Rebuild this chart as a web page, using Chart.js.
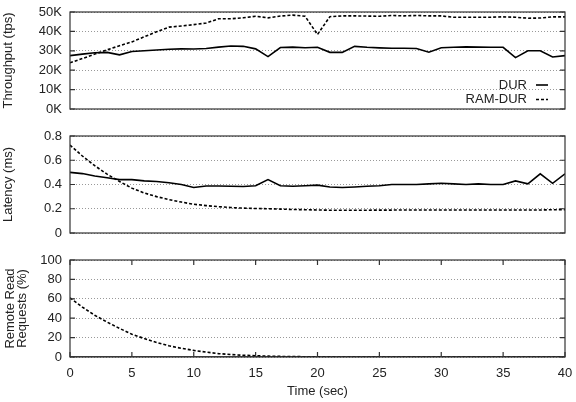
<!DOCTYPE html>
<html>
<head>
<meta charset="utf-8">
<script src="https://cdn.jsdelivr.net/npm/chart.js@4.4.1/dist/chart.umd.min.js"></script>
<style>
    html, body { margin: 0; padding: 0; background: #fff; }
    .panel { position: absolute; left: 0; width: 576px; }
</style>
</head>
<body>
<div class="panel" style="top:0px"><canvas id="tputChart" width="576" height="116"></canvas></div>
<div class="panel" style="top:120px"><canvas id="latChart" width="576" height="120"></canvas></div>
<div class="panel" style="top:245px"><canvas id="remoteChart" width="576" height="157"></canvas></div>
<script>
// time axis (sec)
const seconds = [0, 1, 2, 3, 4, 5, 6, 7, 8, 9, 10, 11, 12, 13, 14, 15, 16, 17, 18, 19, 20,
    21, 22, 23, 24, 25, 26, 27, 28, 29, 30, 31, 32, 33, 34, 35, 36, 37, 38, 39, 40];
const seriesNames = ['DUR', 'RAM-DUR'];

// throughput in thousands of tps
const durThroughput = [27.5, 28.3, 29.0, 29.2, 27.9, 29.6, 30.0, 30.4, 30.8, 31.0, 30.9,
    31.2, 31.9, 32.5, 32.3, 31.0, 27.0, 31.7, 31.9, 31.6, 31.8,
    29.2, 29.2, 32.3, 31.8, 31.5, 31.3, 31.3, 31.2, 29.3, 31.6,
    31.8, 32.0, 31.9, 31.8, 31.8, 26.5, 30.0, 30.0, 26.8, 27.5];
const ramDurThroughput = [23.8, 26.0, 28.3, 30.5, 32.6, 34.6, 37.2, 39.8, 42.2, 42.8, 43.5,
    44.3, 46.5, 46.5, 47.0, 47.8, 47.0, 47.9, 48.4, 47.8, 38.4,
    47.6, 48.0, 48.0, 47.9, 47.8, 48.2, 48.0, 48.2, 48.0, 48.0,
    47.3, 47.3, 47.3, 47.3, 47.5, 47.3, 46.8, 46.9, 47.5, 47.5];

// latency (ms)
const durLatency = [0.50, 0.49, 0.47, 0.455, 0.44, 0.44, 0.43, 0.425, 0.415, 0.40, 0.375,
    0.388, 0.388, 0.385, 0.383, 0.39, 0.44, 0.39, 0.385, 0.39, 0.395,
    0.38, 0.375, 0.38, 0.385, 0.39, 0.40, 0.40, 0.40, 0.405, 0.41,
    0.405, 0.40, 0.405, 0.40, 0.40, 0.43, 0.405, 0.488, 0.41, 0.488];
const ramDurLatency = [0.725, 0.635, 0.555, 0.485, 0.425, 0.37, 0.33, 0.30, 0.275, 0.255, 0.237,
    0.226, 0.217, 0.21, 0.205, 0.202, 0.20, 0.197, 0.194, 0.192, 0.19,
    0.188, 0.188, 0.188, 0.188, 0.189, 0.189, 0.19, 0.19, 0.19, 0.19,
    0.19, 0.19, 0.19, 0.19, 0.19, 0.19, 0.19, 0.19, 0.192, 0.193];

// remote read requests (%)
const durRemote = [0, 0, 0, 0, 0, 0, 0, 0, 0, 0, 0, 0, 0, 0, 0, 0, 0, 0, 0, 0, 0,
    0, 0, 0, 0, 0, 0, 0, 0, 0, 0, 0, 0, 0, 0, 0, 0, 0, 0, 0, 0];
const ramDurRemote = [61, 51.5, 43, 36, 29.5, 23.5, 19, 15, 11.5, 9, 6.8,
    5, 3.5, 2.5, 1.8, 1.3, 0.9, 0.6, 0.4, 0.3, 0.2,
    0.1, 0, 0, 0, 0, 0, 0, 0, 0, 0, 0, 0, 0, 0, 0, 0, 0, 0, 0, 0];

Chart.defaults.font.family = '"Liberation Sans", Arial, sans-serif';
Chart.defaults.font.size = 13;
Chart.defaults.color = '#222';

// gnuplot-like box with inward tick marks
const framePlugin = {
    id: 'frame',
    afterDraw(chart, args, opts) {
        const ctx = chart.ctx;
        const a = chart.chartArea;
        ctx.save();
        ctx.strokeStyle = '#333';
        ctx.lineWidth = 1.2;
        ctx.strokeRect(a.left, a.top, a.right - a.left, a.bottom - a.top);
        ctx.beginPath();
        const ys = chart.scales.y;
        ys.ticks.forEach(t => {
            const py = ys.getPixelForValue(t.value);
            ctx.moveTo(a.left, py); ctx.lineTo(a.left + 5, py);
            ctx.moveTo(a.right, py); ctx.lineTo(a.right - 5, py);
        });
        if (opts.xTicks) {
            const xs = chart.scales.x;
            xs.ticks.forEach(t => {
                const px = xs.getPixelForValue(t.value);
                ctx.moveTo(px, a.bottom); ctx.lineTo(px, a.bottom - 5);
                ctx.moveTo(px, a.top); ctx.lineTo(px, a.top + 5);
            });
        }
        ctx.stroke();
        ctx.restore();
    }
};

// legend inside the plot, text first then the line sample
const keyPlugin = {
    id: 'key',
    afterDraw(chart, args, opts) {
        if (!opts.show) return;
        const ctx = chart.ctx;
        const a = chart.chartArea;
        ctx.save();
        ctx.font = '13px "Liberation Sans", Arial, sans-serif';
        ctx.fillStyle = '#222';
        ctx.textAlign = 'right';
        ctx.textBaseline = 'middle';
        chart.data.datasets.forEach((ds, i) => {
            const y = a.bottom - 24 + i * 14.5;
            ctx.fillText(ds.label, a.right - 38, y);
            ctx.strokeStyle = '#000';
            ctx.lineWidth = 1.6;
            ctx.setLineDash(ds.borderDash || []);
            ctx.beginPath();
            ctx.moveTo(a.right - 29, y);
            ctx.lineTo(a.right - 17, y);
            ctx.stroke();
        });
        ctx.restore();
    }
};

function toPoints(values) {
    return seconds.map((t, i) => ({ x: t, y: values[i] }));
}

function makeChart(id, durValues, ramValues, yOpts, bottomPanel, padTop, showKey) {
    const ctx = document.getElementById(id).getContext('2d');
    return new Chart(ctx, {
        type: 'line',
        data: {
            datasets: [{
                label: seriesNames[0],
                data: toPoints(durValues),
                borderColor: '#000',
                borderWidth: 1.6,
                pointRadius: 0,
                tension: 0,
            }, {
                label: seriesNames[1],
                data: toPoints(ramValues),
                borderColor: '#000',
                borderWidth: 1.6,
                borderDash: [3, 2],
                pointRadius: 0,
                tension: 0,
            }]
        },
        options: {
            responsive: false,
            animation: false,
            layout: {
                padding: { top: padTop, bottom: bottomPanel ? 0 : 7, left: 0, right: 11 }
            },
            plugins: {
                legend: { display: false },
                tooltip: { enabled: false },
                frame: { xTicks: bottomPanel },
                key: { show: showKey },
            },
            scales: {
                x: {
                    type: 'linear',
                    min: 0,
                    max: 40,
                    display: bottomPanel,
                    grid: { display: false, drawTicks: false },
                    border: { display: false },
                    ticks: { stepSize: 5, padding: 9, maxRotation: 0 },
                    title: {
                        display: true,
                        text: 'Time (sec)',
                        padding: { top: 0, bottom: 3 },
                    },
                    afterFit: scale => {
                        scale.height = bottomPanel ? 45 : 0;
                        scale.paddingLeft = 0;
                        scale.paddingRight = 0;
                    },
                },
                y: {
                    min: yOpts.min,
                    max: yOpts.max,
                    grid: { color: '#999', lineWidth: 1, drawTicks: false },
                    border: { display: false, dash: [1, 2] },
                    ticks: {
                        stepSize: yOpts.step,
                        padding: 8,
                        autoSkip: false,
                        callback: yOpts.format,
                    },
                    title: {
                        display: true,
                        text: yOpts.title,
                        font: { lineHeight: 0.9 },
                        padding: { top: yOpts.titlePad, bottom: 0 },
                    },
                    afterFit: scale => {
                        scale.width = 70;
                        scale.paddingTop = 0;
                        scale.paddingBottom = 0;
                    },
                }
            }
        },
        plugins: [framePlugin, keyPlugin],
    });
}

makeChart('tputChart', durThroughput, ramDurThroughput, {
    min: 0, max: 50, step: 10, title: 'Throughput (tps)', titlePad: 3,
    format: v => v + 'K',
}, false, 12, true);

makeChart('latChart', durLatency, ramDurLatency, {
    min: 0, max: 0.8, step: 0.2, title: 'Latency (ms)', titlePad: 3,
    format: v => String(Math.round(v * 10) / 10),
}, false, 16, false);

makeChart('remoteChart', durRemote, ramDurRemote, {
    min: 0, max: 100, step: 20, title: ['Remote Read', 'Requests (%)'], titlePad: 5,
    format: v => String(v),
}, true, 15, false);
</script>
</body>
</html>
